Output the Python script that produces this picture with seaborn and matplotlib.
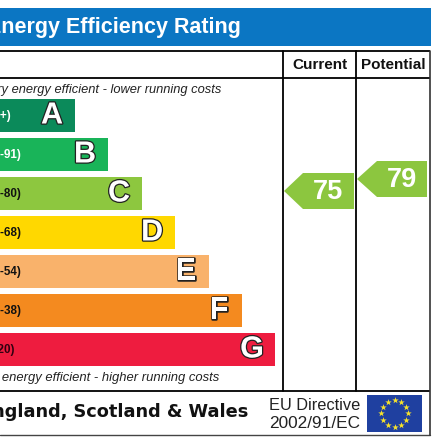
"""
Energy Efficiency Rating chart (EPC style band chart)
"""

import numpy as np
import pandas as pd
import matplotlib
matplotlib.use("Agg")
import matplotlib.pyplot as plt
import matplotlib.patheffects as pe
from matplotlib.patches import Polygon, Rectangle
import seaborn as sns

# Data
bands = ['A', 'B', 'C', 'D', 'E', 'F', 'G']
band_ranges = ['(92+)', '(81-91)', '(69-80)', '(55-68)', '(39-54)', '(21-38)', '(1-20)']
band_lengths = [75, 108, 142, 175, 209, 242, 275]
band_colors = ['#0b8a5a', '#19b459', '#8dc73f', '#ffd800', '#f9b26b', '#f48a1f', '#ee1c3f']
range_colors = ['white', 'white', '#111111', '#111111', '#111111', '#111111', '#300010']
current_rating = 75
potential_rating = 79

BLUE = '#0b76c3'
ARROW = '#8cc63f'

sns.set_theme(style='white')
plt.rcParams['font.family'] = ['Liberation Sans', 'DejaVu Sans']

fig = plt.figure(figsize=(4.4, 4.4), dpi=100)
fig.patch.set_facecolor('white')

# Bars, one category every 39 px starting at y=115.5
ax = fig.add_axes([0, 0, 1, 1])
df = pd.DataFrame({'band': bands, 'length': band_lengths})
sns.barplot(data=df, y='band', x='length', hue='band', palette=band_colors,
            width=0.87, legend=False, saturation=1, linewidth=0, ax=ax)
ax.set_xlim(0, 440)
ax.set_ylim((440 - 115.5) / 39, -115.5 / 39)
ax.axis('off')

outline = [pe.withStroke(linewidth=1.8, foreground='#222222')]
for i, (letter, rng, length) in enumerate(zip(bands, band_ranges, band_lengths)):
    ax.annotate(letter, xy=(length, i), xytext=(-23, 0), textcoords='offset pixels',
                ha='center', va='center', color='white', fontsize=22, fontweight='bold',
                path_effects=outline)
    ax.text(-17, i, rng, ha='left', va='center', color=range_colors[i],
            fontsize=8.4, fontweight='bold')

# Overlay in pixel coordinates for the frame and text
ov = fig.add_axes([0, 0, 1, 1])
ov.set_xlim(0, 440)
ov.set_ylim(440, 0)
ov.axis('off')
ov.patch.set_alpha(0)

ov.add_patch(Rectangle((0, 8), 431, 38, facecolor=BLUE, edgecolor='none'))
ov.text(241, 27.5, 'Energy Efficiency Rating', ha='right', va='center', color='white',
        fontsize=15.5, fontweight='bold')

for y in [51, 78, 391.5]:
    ov.plot([0, 430], [y, y], color='black', lw=1.3, solid_capstyle='butt')
ov.plot([0, 430], [435, 435], color='#444444', lw=1.0)
for x in [282.5, 356]:
    ov.plot([x, x], [51, 391.5], color='black', lw=1.3)
ov.plot([430, 430], [51, 435], color='#333333', lw=1.2)

ov.text(320, 65, 'Current', ha='center', va='center', fontsize=11, fontweight='bold', color='#111111')
ov.text(393, 65, 'Potential', ha='center', va='center', fontsize=11, fontweight='bold', color='#111111')

ov.text(221, 89.5, 'Very energy efficient - lower running costs', ha='right', va='center',
        fontsize=9.3, style='italic', color='#222222')
ov.text(219, 378.5, 'Not energy efficient - higher running costs', ha='right', va='center',
        fontsize=9.4, style='italic', color='#222222')


def rating_arrow(value, tip, left, right):
    """Draw a rating arrow, 3 px per point around 75 at y=191"""
    yc = 191 + (75 - value) * 3
    ov.add_patch(Polygon([(tip, yc), (left, yc - 18), (right, yc - 18), (right, yc + 18), (left, yc + 18)],
                         closed=True, facecolor=ARROW, edgecolor='none'))
    ov.text((left + right) / 2, yc + 1, str(value), ha='center', va='center', color='white',
            fontsize=19.5, fontweight='bold')


rating_arrow(current_rating, 284, 303, 354)
rating_arrow(potential_rating, 357, 377, 427)

# Footer
ov.text(248, 412, 'England, Scotland & Wales', ha='right', va='center', fontsize=12.8,
        fontweight='bold', family='DejaVu Sans', color='#111111')
ov.text(315, 405, 'EU Directive', ha='center', va='center', fontsize=11.8, color='#222222')
ov.text(315, 424, '2002/91/EC', ha='center', va='center', fontsize=12.4, color='#222222')

# EU flag
ov.add_patch(Rectangle((367, 395), 55, 37, facecolor='#1f40a0', edgecolor='none'))
angles = np.deg2rad(np.arange(0, 360, 30))
ov.scatter(394.5 + 13.5 * np.cos(angles), 413.5 + 13.5 * np.sin(angles), marker='*', s=24,
           color='#f7e32a', linewidths=0)

plt.savefig('out.png', dpi=100)
plt.close()
